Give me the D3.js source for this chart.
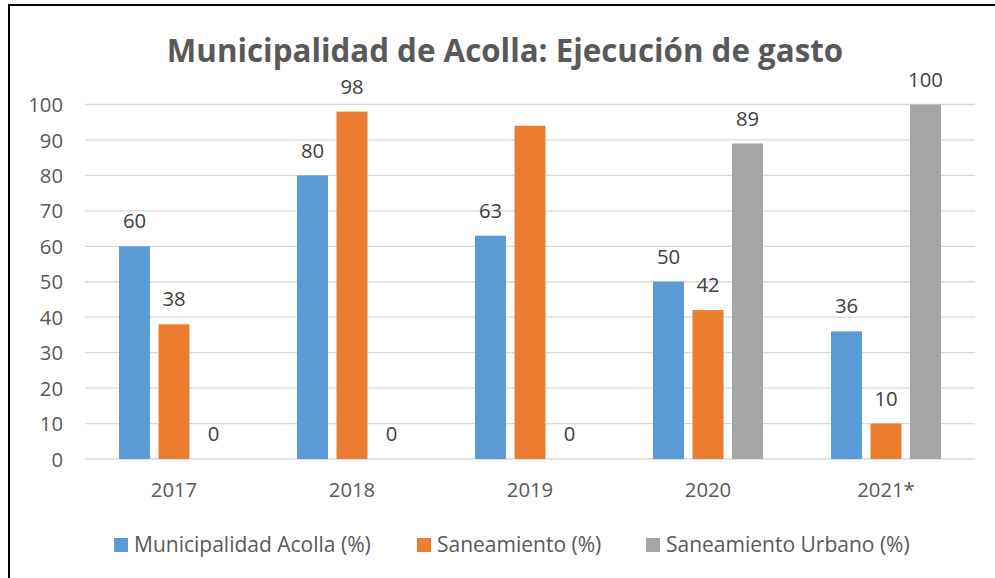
<!DOCTYPE html>
<html><head><meta charset="utf-8">
<script src="https://cdn.jsdelivr.net/npm/d3@7"></script>
<style>body{margin:0;background:#fff;} svg{display:block;font-family:"Open Sans",sans-serif;}</style>
</head><body>
<svg id="c" width="995" height="578"></svg>
<script>
const title = "Municipalidad de Acolla: Ejecución de gasto";
const categories = ["2017","2018","2019","2020","2021*"];
const seriesNames = ["Municipalidad Acolla (%)","Saneamiento (%)","Saneamiento Urbano (%)"];
const municipalidad = [60, 80, 63, 50, 36];
const saneamiento = [38, 98, 94, 42, 10];
const saneamientoUrbano = [0, 0, 0, 89, 100];
const saneamientoLabels = ["38","98",null,"42","10"];
const yTicks = [0,10,20,30,40,50,60,70,80,90,100];
const colors = ["#5B9BD5","#ED7D31","#A5A5A5"];
const FONT = "'Open Sans',sans-serif";
const FS = 20.3;

const svg = d3.select("#c");
svg.append("rect").attr("x",9).attr("y",5).attr("width",1100).attr("height",700)
  .attr("fill","#fff").attr("stroke","#000").attr("stroke-width",2);

const x0 = d3.scaleBand().domain(categories).range([85,975]).paddingInner(0).paddingOuter(0);
const y = d3.scaleLinear().domain([0,100]).range([459,104.5]);
const barW = 31, step = 39.5;

// gridlines
svg.append("g").selectAll("line").data(yTicks).join("line")
  .attr("x1",85).attr("x2",975).attr("y1",d=>y(d)).attr("y2",d=>y(d))
  .attr("stroke","#d9d9d9").attr("stroke-width",1.3);

// y axis labels
const yAxis = d3.axisLeft(y).tickValues(yTicks).tickSize(0).tickPadding(0);
const ya = svg.append("g").attr("transform","translate(63,0)").call(yAxis);
ya.select(".domain").remove();
ya.selectAll("text").attr("font-size",FS).attr("fill","#595959").attr("font-family",FONT).attr("dy","0.35em");

// x axis labels
const xAxis = d3.axisBottom(x0).tickSize(0).tickPadding(0);
const xa = svg.append("g").attr("transform","translate(0,497)").call(xAxis);
xa.select(".domain").remove();
xa.selectAll("text").attr("font-size",FS).attr("fill","#595959").attr("font-family",FONT).attr("dy","0");

const series = [
  {vals: municipalidad, labels: municipalidad.map(String)},
  {vals: saneamiento, labels: saneamientoLabels},
  {vals: saneamientoUrbano, labels: saneamientoUrbano.map(String)}
];
series.forEach((s,si)=>{
  const g = svg.append("g");
  const xs = (i)=> x0(categories[i]) + x0.bandwidth()/2 + (si-1)*step - barW/2;
  g.selectAll("rect").data(s.vals).join("rect")
    .attr("x",(d,i)=>xs(i)).attr("y",d=>y(d)).attr("width",barW).attr("height",d=>y(0)-y(d))
    .attr("fill",colors[si]);
  g.selectAll("text").data(s.vals).join("text")
    .attr("x",(d,i)=>xs(i)+barW/2).attr("y",d=>y(d)-25).attr("dy","0.35em")
    .attr("text-anchor","middle").attr("font-size",FS).attr("fill","#404040")
    .text((d,i)=>s.labels[i]===null?"":s.labels[i]);
});

// title
svg.append("text").attr("x",505).attr("y",62).attr("text-anchor","middle")
  .attr("font-size",31.3).attr("font-weight","bold").attr("fill","#595959").text(title);

// legend
const legX = [114, 417, 646];
const lg = svg.append("g");
seriesNames.forEach((n,i)=>{
  lg.append("rect").attr("x",legX[i]).attr("y",538).attr("width",14).attr("height",14).attr("fill",colors[i]);
  lg.append("text").attr("x",legX[i]+20).attr("y",552).attr("font-size",21).attr("fill","#595959").text(n);
});
</script>
</body></html>
